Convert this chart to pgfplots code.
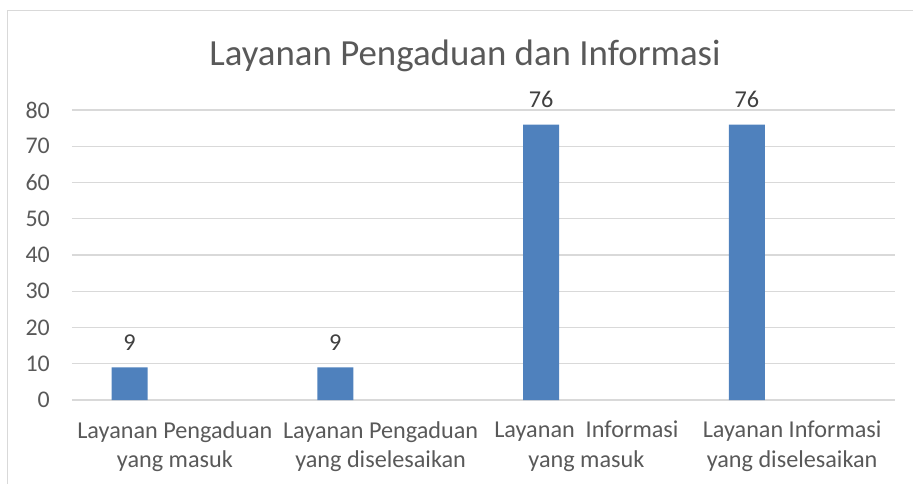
\documentclass[border=0pt]{standalone}
\usepackage{pgfplots}
\pgfplotsset{compat=1.18}
\usepackage{fontspec}
\setmainfont{Carlito}
\definecolor{barblue}{HTML}{4F81BD}
\definecolor{gridgray}{HTML}{D9D9D9}
\definecolor{txtgray}{HTML}{595959}
\definecolor{lblgray}{HTML}{404040}

\begin{document}
\begin{tikzpicture}
\path[use as bounding box] (-72bp,-84bp) rectangle (841bp,400bp);
% chart border (cropped on right and bottom)
\draw[gridgray, line width=1bp] (-64bp,-90bp) -- (-64bp,389bp) -- (850bp,389bp);
\node[txtgray, font=\fontsize{37}{44}\selectfont, anchor=center] at (393bp,344bp)
  {Layanan Pengaduan dan Informasi};
\begin{axis}[
    at={(0,0)}, anchor=south west,
    scale only axis,
    width=823bp, height=290bp,
    xmin=-0.5, xmax=3.5,
    ymin=0, ymax=80,
    ytick={0,10,...,80},
    xtick={0,1,2,3},
    xticklabels={{Layanan Pengaduan\\yang masuk},
                 {Layanan Pengaduan\\yang diselesaikan},
                 {Layanan\ \ Informasi\\yang masuk},
                 {Layanan Informasi\\yang diselesaikan}},
    axis line style={draw=none},
    major tick length=0pt,
    ymajorgrids,
    grid style={gridgray, line width=1.3bp},
    /pgf/number format/assume math mode=true,
    yticklabel style={txtgray, font=\fontsize{24}{28}\selectfont, inner sep=0pt, anchor=east},
    yticklabel shift=22bp,
    xticklabel style={txtgray, font=\fontsize{24.3}{30}\selectfont, inner sep=0pt,
                      align=center, anchor=north},
    xticklabel shift=21bp,
    ybar, bar width=36bp,
    nodes near coords,
    nodes near coords style={lblgray, font=\fontsize{24.3}{28}\selectfont,
                             inner sep=0pt, anchor=south, yshift=17bp},
    clip=false,
]
\addplot[fill=barblue, draw=none] coordinates {
    (-0.22,9) (0.78,9) (1.78,76) (2.78,76)
};
\end{axis}
\end{tikzpicture}
\end{document}
